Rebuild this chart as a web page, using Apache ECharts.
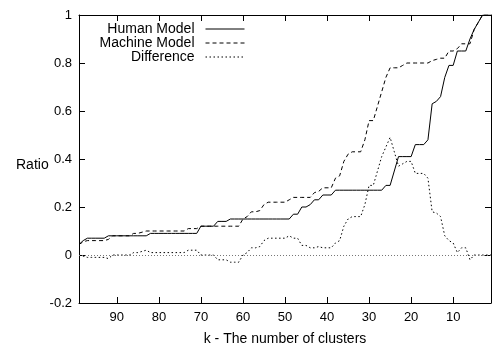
<!DOCTYPE html>
<html>
<head>
<meta charset="utf-8">
<script src="https://cdn.jsdelivr.net/npm/echarts@6/dist/echarts.min.js"></script>
<style>
  html, body { margin: 0; padding: 0; background: #fff; }
  #chart { width: 492px; height: 351px; }
</style>
</head>
<body>
<div id="chart"></div>
<script>
// k = number of clusters, from 99 down to 1
const kValues = [
  99, 98, 97, 96, 95, 94, 93, 92, 91, 90,
  89, 88, 87, 86, 85, 84, 83, 82, 81, 80,
  79, 78, 77, 76, 75, 74, 73, 72, 71, 70,
  69, 68, 67, 66, 65, 64, 63, 62, 61, 60,
  59, 58, 57, 56, 55, 54, 53, 52, 51, 50,
  49, 48, 47, 46, 45, 44, 43, 42, 41, 40,
  39, 38, 37, 36, 35, 34, 33, 32, 31, 30,
  29, 28, 27, 26, 25, 24, 23, 22, 21, 20,
  19, 18, 17, 16, 15, 14, 13, 12, 11, 10,
  9, 8, 7, 6, 5, 4, 3, 2, 1
];

const humanModel = [
  0.044, 0.06, 0.07, 0.07, 0.07, 0.07, 0.07, 0.08, 0.08, 0.08,
  0.08, 0.08, 0.08, 0.08, 0.08, 0.08, 0.08, 0.09, 0.09, 0.09,
  0.09, 0.09, 0.09, 0.09, 0.09, 0.09, 0.09, 0.09, 0.09, 0.12,
  0.12, 0.12, 0.12, 0.14, 0.14, 0.14, 0.15, 0.15, 0.15, 0.15,
  0.15, 0.15, 0.15, 0.15, 0.15, 0.15, 0.15, 0.15, 0.15, 0.15,
  0.15, 0.17, 0.17, 0.20, 0.20, 0.21, 0.23, 0.23, 0.25, 0.25,
  0.25, 0.27, 0.27, 0.27, 0.27, 0.27, 0.27, 0.27, 0.27, 0.27,
  0.27, 0.27, 0.27, 0.29, 0.29, 0.35, 0.41, 0.41, 0.41, 0.41,
  0.46, 0.46, 0.46, 0.48, 0.63, 0.64, 0.66, 0.74, 0.79, 0.79,
  0.85, 0.85, 0.85, 0.90, 0.94, 0.97, 1.0, 1.0, 1.0
];

const machineModel = [
  0.044, 0.055, 0.06, 0.06, 0.06, 0.06, 0.06, 0.065, 0.08, 0.08,
  0.08, 0.08, 0.08, 0.09, 0.09, 0.095, 0.10, 0.10, 0.10, 0.10,
  0.10, 0.10, 0.10, 0.10, 0.10, 0.10, 0.11, 0.11, 0.11, 0.12,
  0.12, 0.12, 0.12, 0.12, 0.12, 0.12, 0.12, 0.12, 0.12, 0.15,
  0.16, 0.18, 0.18, 0.185, 0.21, 0.22, 0.22, 0.22, 0.22, 0.22,
  0.23, 0.24, 0.24, 0.24, 0.24, 0.24, 0.26, 0.265, 0.28, 0.28,
  0.28, 0.32, 0.33, 0.39, 0.42, 0.43, 0.43, 0.43, 0.48, 0.56,
  0.56, 0.62, 0.68, 0.74, 0.78, 0.78, 0.78, 0.79, 0.80, 0.80,
  0.80, 0.80, 0.80, 0.80, 0.81, 0.815, 0.82, 0.82, 0.85, 0.85,
  0.86, 0.88, 0.88, 0.88, 0.94, 0.97, 1.0, 1.0, 1.0
];

const difference = [
  0, -0.005, -0.01, -0.01, -0.01, -0.01, -0.01, -0.015, 0, 0,
  0, 0, 0, 0.01, 0.01, 0.015, 0.02, 0.01, 0.01, 0.01,
  0.01, 0.01, 0.01, 0.01, 0.01, 0.01, 0.02, 0.02, 0.02, 0,
  0, 0, 0, -0.02, -0.02, -0.02, -0.03, -0.03, -0.03, 0,
  0.01, 0.03, 0.03, 0.035, 0.06, 0.07, 0.07, 0.07, 0.07, 0.07,
  0.08, 0.07, 0.07, 0.04, 0.04, 0.03, 0.03, 0.035, 0.03, 0.03,
  0.03, 0.05, 0.06, 0.12, 0.15, 0.16, 0.16, 0.16, 0.21, 0.29,
  0.29, 0.35, 0.41, 0.45, 0.49, 0.43, 0.37, 0.38, 0.39, 0.39,
  0.34, 0.34, 0.34, 0.32, 0.18, 0.175, 0.16, 0.08, 0.06, 0.05,
  0.01, 0.03, 0.03, -0.02, 0, 0, 0, 0, 0
];

const xTicks = [90, 80, 70, 60, 50, 40, 30, 20, 10];
const seriesNames = ['Human Model', 'Machine Model', 'Difference'];

const FONT = 'Liberation Sans, Arial, Helvetica, sans-serif';
const INK = '#000';

function pairs(values) {
  return kValues.map((k, i) => [k, values[i]]);
}

const frameAxisX = {
  type: 'value', min: 1, max: 99, inverse: true,
  axisLine: { show: true, onZero: false, lineStyle: { color: INK, width: 1 } },
  axisTick: { show: true, inside: true, length: 6, customValues: xTicks, lineStyle: { color: INK } },
  splitLine: { show: false }
};
const frameAxisY = {
  type: 'value', min: -0.2, max: 1, interval: 0.2,
  axisLine: { show: true, onZero: false, lineStyle: { color: INK, width: 1 } },
  axisTick: { show: true, inside: true, length: 6, lineStyle: { color: INK } },
  splitLine: { show: false }
};

// one legend per entry so every row is right-aligned against its key line
function legendFor(name, top) {
  return {
    data: [name],
    right: 247, top: top,
    padding: 0,
    itemWidth: 39, itemHeight: 14,
    align: 'right',
    selectedMode: false,
    itemStyle: { opacity: 0 },
    lineStyle: { width: 1 },
    textStyle: { fontFamily: FONT, fontSize: 14, color: INK, padding: [0, 6, 0, 0] }
  };
}

const chart = echarts.init(document.getElementById('chart'), null, { renderer: 'canvas' });
chart.setOption({
  animation: false,
  backgroundColor: '#fff',
  grid: { left: 79, right: 1, top: 15, bottom: 43 },
  legend: [
    legendFor(seriesNames[0], 22),
    legendFor(seriesNames[1], 36),
    legendFor(seriesNames[2], 50)
  ],
  graphic: [
    {
      type: 'text', left: 16, top: 158,
      style: { text: 'Ratio', fontFamily: FONT, fontSize: 14, fill: INK }
    }
  ],
  xAxis: [
    Object.assign({}, frameAxisX, {
      position: 'bottom',
      axisLabel: { show: true, customValues: xTicks, margin: 8, fontFamily: FONT, fontSize: 13, color: INK },
      name: 'k - The number of clusters',
      nameLocation: 'middle',
      nameGap: 29,
      nameTextStyle: { fontFamily: FONT, fontSize: 14, color: INK }
    }),
    Object.assign({}, frameAxisX, {
      position: 'top',
      axisLabel: { show: false }
    })
  ],
  yAxis: [
    Object.assign({}, frameAxisY, {
      position: 'left',
      axisLabel: { show: true, margin: 7, fontFamily: FONT, fontSize: 13, color: INK }
    }),
    Object.assign({}, frameAxisY, {
      position: 'right',
      axisLabel: { show: false }
    })
  ],
  series: [
    {
      name: seriesNames[0], type: 'line', data: pairs(humanModel),
      showSymbol: false, symbol: 'none',
      lineStyle: { color: INK, width: 1, type: 'solid' },
      itemStyle: { color: INK },
      z: 4
    },
    {
      name: seriesNames[1], type: 'line', data: pairs(machineModel),
      showSymbol: false, symbol: 'none',
      lineStyle: { color: INK, width: 1, type: [4, 3] },
      itemStyle: { color: INK },
      z: 3
    },
    {
      name: seriesNames[2], type: 'line', data: pairs(difference),
      showSymbol: false, symbol: 'none',
      lineStyle: { color: INK, width: 1, type: [1.5, 2.5] },
      itemStyle: { color: INK },
      z: 2,
      markLine: {
        silent: true,
        symbol: 'none',
        label: { show: false },
        lineStyle: { color: '#777', width: 1, type: [1, 2] },
        data: [{ yAxis: 0 }]
      }
    }
  ]
});
</script>
</body>
</html>
